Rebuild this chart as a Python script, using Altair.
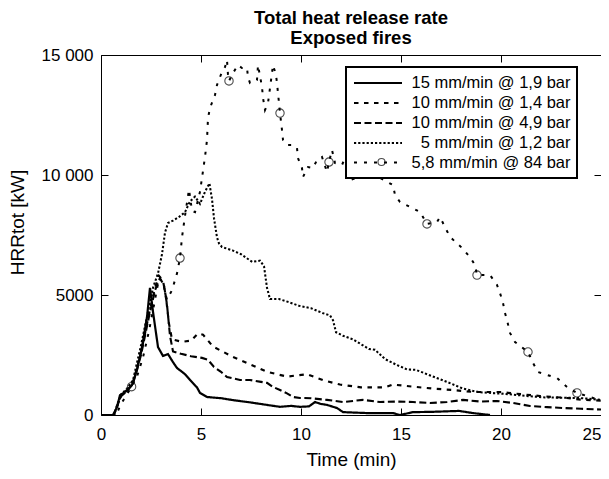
import altair as alt
import pandas as pd

# ---- data ----
labels = ["15 mm/min @ 1,9 bar", "10 mm/min @ 1,4 bar", "10 mm/min @ 4,9 bar",
          "5 mm/min @ 1,2 bar", "5,8 mm/min @ 84 bar"]

s1 = [(0, 0), (0.6, 0), (0.8, 330), (0.95, 830), (1.2, 960), (1.55, 1250), (1.8, 1880), (2.05, 2830),
      (2.3, 4080), (2.45, 5300), (2.6, 4300), (2.85, 2830), (3.1, 2460), (3.35, 2540), (3.6, 2200),
      (3.8, 1960), (4.2, 1700), (4.45, 1460), (4.8, 1150), (4.95, 920), (5.3, 750), (6.0, 700),
      (6.6, 620), (7.5, 520), (8.3, 420), (8.95, 340), (9.5, 380), (9.95, 340), (10.4, 360),
      (10.7, 540), (11.0, 460), (11.3, 420), (11.8, 290), (12.1, 120), (13.3, 80), (14.6, 80),
      (14.95, 0), (15.6, 120), (16.5, 130), (17.9, 170), (18.6, 80), (19.45, 0)]

s2 = [(0, 0), (0.65, 0), (0.8, 350), (1.0, 800), (1.3, 1000), (1.6, 1350), (2.0, 2600), (2.4, 4200),
      (2.7, 5300), (2.9, 5800), (3.1, 5600), (3.25, 4900), (3.4, 3800), (3.55, 3150), (4.05, 3050),
      (4.5, 3100), (4.85, 3400), (5.1, 3350), (5.6, 2850), (6.6, 2420), (7.3, 2170), (8.3, 1800),
      (9.3, 1600), (10.3, 1700), (11.1, 1450), (11.95, 1270), (13.0, 1150), (14.2, 1150),
      (14.6, 1270), (15.6, 1180), (16.6, 1100), (17.6, 1040), (18.6, 960), (19.95, 960),
      (20.6, 900), (21.95, 790), (23.3, 710), (24.0, 640), (25, 600)]

s3 = [(0, 0), (0.65, 0), (0.8, 350), (1.0, 780), (1.3, 1000), (1.6, 1300), (2.0, 2500), (2.4, 4100),
      (2.7, 5200), (2.95, 5700), (3.15, 5400), (3.3, 4600), (3.45, 3300), (3.6, 2650), (4.0, 2550),
      (4.5, 2450), (5.05, 2380), (5.35, 2300), (5.65, 2000), (6.0, 1800), (6.3, 1580), (6.95, 1460),
      (7.45, 1460), (8.0, 1380), (8.3, 1340), (8.6, 1170), (8.95, 1040), (9.3, 900), (9.6, 750),
      (9.95, 710), (10.5, 700), (11.3, 630), (12.1, 540), (13.1, 630), (13.95, 540), (14.8, 560),
      (15.6, 540), (16.45, 500), (17.3, 540), (18.1, 630), (18.95, 560), (19.8, 585), (20.6, 500),
      (21.45, 375), (22.3, 330), (23.1, 290), (24.0, 260), (25, 230)]

s4 = [(0, 0), (0.65, 0), (0.8, 400), (1.0, 850), (1.3, 1100), (1.6, 1450), (2.0, 2900), (2.3, 4100),
      (2.6, 5300), (2.85, 5900), (3.05, 6700), (3.2, 7600), (3.35, 8000), (3.6, 8100), (3.9, 8250),
      (4.2, 8450), (4.45, 8900), (4.7, 9100), (4.95, 8800), (5.2, 9300), (5.42, 9650), (5.55, 9000),
      (5.65, 8200), (5.8, 7400), (5.9, 7150), (6.05, 7000), (6.6, 6850), (7.0, 6700), (7.56, 6380),
      (7.95, 6430), (8.15, 6200), (8.3, 5300), (8.45, 4830), (8.9, 4830), (9.4, 4700), (9.9, 4550),
      (10.5, 4450), (11.07, 4250), (11.45, 4150), (11.6, 3950), (11.75, 3450), (12.1, 3300),
      (12.6, 3150), (13.1, 2900), (13.4, 2750), (13.7, 2720), (14.2, 2330), (14.8, 2080),
      (15.3, 1900), (15.75, 1880), (16.3, 1700), (17.3, 1380), (18.1, 1100), (18.9, 950),
      (20.2, 880), (21.2, 800), (22.2, 730), (23.15, 720), (24.1, 700), (25, 630)]

s5 = [(0, 0), (0.75, 0), (1.0, 450), (1.25, 800), (1.53, 1180), (1.8, 1600), (2.1, 2400), (2.4, 3500),
      (2.7, 4800), (2.9, 5700), (3.1, 5500), (3.3, 4800), (3.55, 5200), (3.8, 5900), (3.95, 6540),
      (4.05, 7400), (4.2, 8300), (4.4, 9400), (4.55, 8500), (4.7, 8450), (4.95, 9300), (5.05, 9880),
      (5.2, 10750), (5.3, 11460), (5.35, 12375), (5.45, 12790), (5.6, 13125), (5.7, 13330),
      (5.8, 13750), (5.95, 14080), (6.05, 14290), (6.2, 14500), (6.3, 14790), (6.35, 14170),
      (6.4, 13920), (6.6, 14250), (6.85, 14580), (7.05, 14460), (7.3, 14460), (7.35, 14080),
      (7.45, 13830), (7.6, 13870), (7.8, 13960), (7.85, 14580), (8.05, 13670), (8.1, 13210),
      (8.2, 12710), (8.35, 13000), (8.45, 13625), (8.6, 14580), (8.75, 14170), (8.8, 13830),
      (8.95, 12580), (9.05, 11875), (9.1, 11460), (9.3, 11250), (9.6, 11250), (9.8, 11125),
      (9.85, 10700), (10.05, 10290), (10.1, 9920), (10.35, 10330), (10.6, 10290), (10.8, 10625),
      (11.05, 10750), (11.3, 10125), (11.4, 10540), (11.55, 11040), (11.7, 10500), (12.05, 10420),
      (12.2, 10700), (12.5, 9800), (13.2, 10000), (13.9, 9900), (14.6, 9580), (14.7, 9170),
      (14.95, 8875), (15.45, 8670), (15.95, 8460), (16.3, 7960), (16.8, 8040), (16.95, 8250),
      (17.2, 7830), (17.45, 7420), (18.05, 6960), (18.45, 6580), (18.7, 6250), (18.8, 5830),
      (19.45, 5830), (19.8, 5420), (19.95, 5080), (20.1, 4670), (20.2, 4250), (20.3, 3960),
      (20.45, 3420), (20.7, 3040), (21.35, 2625), (21.6, 2170), (21.85, 1790), (22.3, 1670),
      (22.8, 1540), (23.3, 1170), (23.8, 920), (24.45, 750), (25, 600)]

marker_t = [1.53, 3.95, 6.4, 8.95, 11.4, 16.3, 18.8, 21.35, 23.8]
marker_v = [1180, 6540, 13920, 12580, 10540, 7960, 5830, 2625, 920]

x_ticks = [0, 5, 10, 15, 20, 25]
y_ticks = [0, 5000, 10000, 15000]

dashes = [[1, 0], [4.5, 5.5], [7, 3.5], [2.2, 2], [3, 7]]
widths = [2.2, 2.0, 2.0, 2.0, 2.4]

rows = []
for lab, pts in zip(labels, [s1, s2, s3, s4, s5]):
    for t, v in pts:
        rows.append({"series": lab, "t": t, "v": v})
df = pd.DataFrame(rows)
dfm = pd.DataFrame({"t": marker_t, "v": marker_v, "mk": ["m"] * len(marker_t)})

W, H = 500, 360
FONT = "Liberation Sans"
xs = alt.Scale(domain=[0, 25], nice=False)
ys = alt.Scale(domain=[0, 15000], nice=False)


def tick_axis(orient, offset):
    return alt.Axis(orient=orient, offset=offset, values=x_ticks if orient in ("top", "bottom") else y_ticks,
                    labels=False, domain=False, grid=False, ticks=True, tickSize=7,
                    tickColor="black", tickWidth=1, title=None)


lines = alt.Chart(df).mark_line(color="black", clip=True).encode(
    x=alt.X("t:Q", scale=xs, axis=alt.Axis(values=x_ticks, title="Time (min)", ticks=False, domain=False,
                                            grid=False, labelFontSize=17, labelPadding=11, labelFlush=False,
                                            labelAlign={"condition": {"test": "datum.value == 25", "value": "right"},
                                                        "value": "center"},
                                            titleFontSize=19, titleFontWeight="normal", titlePadding=8)),
    y=alt.Y("v:Q", scale=ys, axis=alt.Axis(values=y_ticks, title="HRRtot [kW]", ticks=False, domain=False,
                                            grid=False, labelFontSize=17, labelPadding=8, labelFlush=False,
                                            titleFontSize=19, titleFontWeight="normal", titleX=-74, titleY=167,
                                            labelExpr="datum.value >= 10000 ? replace(format(datum.value, ','), ',', ' ') : format(datum.value, 'd')")),
    strokeDash=alt.StrokeDash("series:N", scale=alt.Scale(domain=labels, range=dashes),
                              legend=alt.Legend(orient="none", legendX=245, legendY=12, title=None,
                                                symbolType="M-1,0H5", symbolSize=256, symbolStrokeWidth=2,
                                                symbolStrokeColor="black", symbolFillColor="transparent",
                                                labelFontSize=16.5, labelFont=FONT, labelColor="black",
                                                labelAlign="right", labelOffset=199, labelLimit=400,
                                                rowPadding=2, padding=6.5,
                                                strokeColor="black", fillColor="white")),
    strokeWidth=alt.StrokeWidth("series:N", scale=alt.Scale(domain=labels, range=widths), legend=None),
)

markers = alt.Chart(dfm).mark_point(filled=False, color="black", size=70, strokeWidth=1.1).encode(
    x=alt.X("t:Q", scale=xs, axis=tick_axis("top", -H)),
    y=alt.Y("v:Q", scale=ys, axis=tick_axis("right", -W)),
    shape=alt.Shape("mk:N", scale=alt.Scale(domain=["m"], range=["circle"]),
                    legend=alt.Legend(orient="none", legendX=276, legendY=102.5, title=None,
                                      labelExpr="''", labelFontSize=1, padding=0, symbolSize=50,
                                      symbolStrokeWidth=1.1, symbolStrokeColor="black",
                                      symbolFillColor="white", strokeColor="transparent",
                                      fillColor="transparent", zindex=2)),
)

ticks2 = alt.Chart(dfm).mark_point(opacity=0).encode(
    x=alt.X("t:Q", scale=xs, axis=tick_axis("bottom", -H)),
    y=alt.Y("v:Q", scale=ys, axis=tick_axis("left", -W)),
)

chart = alt.layer(lines, markers, ticks2).resolve_axis(x="independent", y="independent").properties(
    width=W, height=H,
    padding={"left": 93, "top": 47, "right": 0, "bottom": 56},
    autosize=alt.AutoSizeParams(type="none"),
    title=alt.TitleParams(text=["Total heat release rate", "Exposed fires"], fontSize=18.5, font=FONT,
                          fontWeight="bold", anchor="middle", frame="group", offset=-1.5, lineHeight=20.5,
                          color="black"),
).configure_view(stroke="black", strokeWidth=1).configure_axis(
    labelFont=FONT, titleFont=FONT, labelColor="black", titleColor="black"
).configure_legend(strokeWidth=2)

chart.save("out.html", embed_options={"renderer": "svg", "actions": False})
